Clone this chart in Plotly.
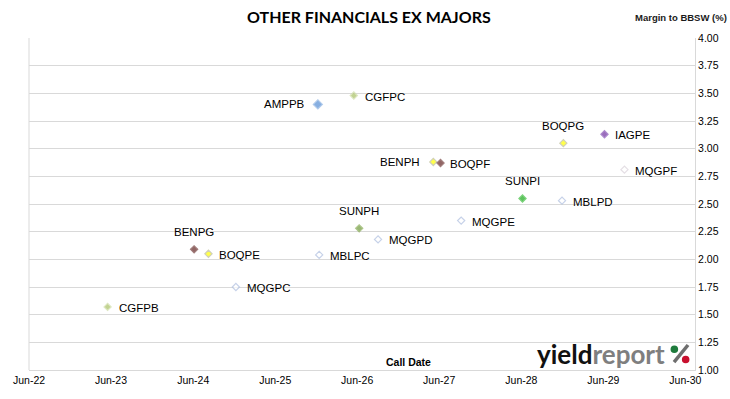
import plotly.graph_objects as go

# ---- data ----
bonds = ["CGFPB", "BENPG", "BOQPE", "MQGPC", "AMPPB", "MBLPC", "CGFPC", "SUNPH",
         "MQGPD", "BENPH", "BOQPF", "MQGPE", "SUNPI", "MBLPD", "BOQPG", "IAGPE", "MQGPF"]
call_dates = ["2023-05-17", "2024-06-05", "2024-08-08", "2024-12-08", "2025-12-08",
              "2025-12-14", "2026-05-17", "2026-06-10", "2026-09-02", "2027-05-06",
              "2027-06-07", "2027-09-07", "2028-06-06", "2028-11-29", "2028-12-05",
              "2029-06-06", "2029-09-03"]
margins = [1.57, 2.09, 2.05, 1.75, 3.40, 2.04, 3.48, 2.28,
           2.18, 2.88, 2.87, 2.35, 2.55, 2.53, 3.05, 3.13, 2.81]

tick_dates = ["2022-06-01", "2023-06-01", "2024-06-01", "2025-06-01", "2026-06-01",
              "2027-06-01", "2028-06-01", "2029-06-01", "2030-06-01"]
tick_labels = ["Jun-22", "Jun-23", "Jun-24", "Jun-25", "Jun-26", "Jun-27", "Jun-28", "Jun-29", "Jun-30"]

# ---- styles ----
fill = {
    "CGFPB": "#A9C164", "CGFPC": "#A9C164", "AMPPB": "#558ED5",
    "BENPG": "#632523", "BOQPF": "#632523",
    "BOQPE": "#FFFF00", "BOQPG": "#FFFF00", "BENPH": "#FFFF00",
    "IAGPE": "#7030A0", "SUNPI": "#1AAA1A", "SUNPH": "#6E9A3A",
    "MQGPC": "#FFFFFF", "MQGPD": "#FFFFFF", "MQGPE": "#FFFFFF",
    "MBLPC": "#FFFFFF", "MBLPD": "#FFFFFF", "MQGPF": "#FFFFFF",
}
edge = {
    "CGFPB": "#D0DEA8", "CGFPC": "#D0DEA8", "AMPPB": "#8EB4E3",
    "BENPG": "#7A4745", "BOQPF": "#7A4745",
    "BOQPE": "#BDBD9A", "BOQPG": "#BDBD9A", "BENPH": "#BDBD9A",
    "IAGPE": "#8A58B8", "SUNPI": "#44C044", "SUNPH": "#8CAE5A",
    "MQGPC": "#AFBFE0", "MQGPD": "#AFBFE0", "MQGPE": "#AFBFE0",
    "MBLPC": "#AFBFE0", "MBLPD": "#AFBFE0", "MQGPF": "#DAD2DA",
}
label_side = {
    "CGFPB": "r", "BENPG": "t", "BOQPE": "r", "MQGPC": "r", "AMPPB": "l",
    "MBLPC": "r", "CGFPC": "r", "SUNPH": "t", "MQGPD": "r", "BENPH": "l",
    "BOQPF": "r", "MQGPE": "r", "SUNPI": "t", "MBLPD": "r", "BOQPG": "t",
    "IAGPE": "r", "MQGPF": "r",
}

FONT = "Liberation Sans"

fig = go.Figure()
fig.add_trace(go.Scatter(
    x=call_dates, y=margins, mode="markers",
    marker=dict(symbol="diamond",
                size=[7 if b == "AMPPB" else 5.5 for b in bonds],
                color=[fill[b] for b in bonds],
                line=dict(color=[edge[b] for b in bonds], width=1.2)),
    text=bonds, hoverinfo="text", showlegend=False,
))

for b, d, m in zip(bonds, call_dates, margins):
    s = label_side[b]
    if s == "r":
        kw = dict(xanchor="left", yanchor="middle", xshift=7 if b == "BOQPF" else 9, yshift=-1)
    elif s == "l":
        kw = dict(xanchor="right", yanchor="middle", xshift=-11, yshift=0)
    else:
        kw = dict(xanchor="center", yanchor="middle", xshift=0, yshift=17)
    fig.add_annotation(x=d, y=m, text=b, showarrow=False,
                       font=dict(family=FONT, size=11.5, color="#000000"), **kw)

fig.add_annotation(xref="paper", yref="paper", x=0.511, y=1.0, yshift=22,
                   text="<b>OTHER FINANCIALS EX MAJORS</b>", showarrow=False,
                   font=dict(family="Lato", size=16, color="#000000"),
                   xanchor="center", yanchor="middle")
fig.add_annotation(xref="paper", yref="paper", x=1.0, xshift=34, y=1.0, yshift=21,
                   text="<b>Margin to BBSW (%)</b>", showarrow=False,
                   font=dict(family=FONT, size=9.5, color="#1A1A1A"),
                   xanchor="right", yanchor="middle")
fig.add_annotation(xref="paper", yref="paper", x=0.57, y=0.0, yshift=8,
                   text="<b>Call Date</b>", showarrow=False,
                   font=dict(family=FONT, size=10.5, color="#000000"),
                   xanchor="center", yanchor="middle")
# logo: "yieldreport" + a drawn "%" with green / red dots
fig.add_annotation(xref="paper", yref="paper", x=1.0, xshift=-28, y=0.0, yshift=16,
                   text="<b>yield</b><b><span style='color:#7F7F7F'>report</span></b>",
                   showarrow=False,
                   font=dict(family="Lato", size=26, color="#111111"),
                   xanchor="right", yanchor="middle")
fig.add_shape(type="line", xref="paper", yref="paper",
              x0=0.9685, y0=0.024, x1=0.9895, y1=0.0753,
              line=dict(color="#6E6E6E", width=3.5))
fig.add_shape(type="circle", xref="paper", yref="paper",
              xsizemode="pixel", ysizemode="pixel",
              xanchor=0.969, yanchor=0.0623, x0=-3.8, x1=3.8, y0=-3.8, y1=3.8,
              fillcolor="#1E7B3C", line=dict(width=0))
fig.add_shape(type="circle", xref="paper", yref="paper",
              xsizemode="pixel", ysizemode="pixel",
              xanchor=0.986, yanchor=0.0316, x0=-3.8, x1=3.8, y0=-3.8, y1=3.8,
              fillcolor="#C8102E", line=dict(width=0))

fig.update_layout(
    width=730, height=399,
    margin=dict(l=29, r=35, t=38, b=29),
    paper_bgcolor="#FFFFFF", plot_bgcolor="#FFFFFF",
    font=dict(family=FONT, size=11, color="#000000"),
    xaxis=dict(type="date", range=["2022-06-01", "2030-07-14"],
               tickvals=tick_dates, ticktext=tick_labels,
               showgrid=False, zeroline=False,
               showline=True, linecolor="#D9D9D9", linewidth=1, mirror=False,
               ticks="", ticklen=0, tickfont=dict(family=FONT, size=10.5, color="#000000")),
    yaxis=dict(side="right", range=[1.0, 4.0], dtick=0.25, tickformat=".2f",
               showgrid=True, gridcolor="#D9D9D9", gridwidth=1, zeroline=False,
               showline=True, linecolor="#D9D9D9", linewidth=1,
               ticks="", tickfont=dict(family=FONT, size=10.5, color="#000000")),
)
# left border line of plot area
fig.add_shape(type="line", xref="paper", yref="paper", x0=0, x1=0, y0=0, y1=1,
              line=dict(color="#D9D9D9", width=1))

fig.write_html("out.html")
